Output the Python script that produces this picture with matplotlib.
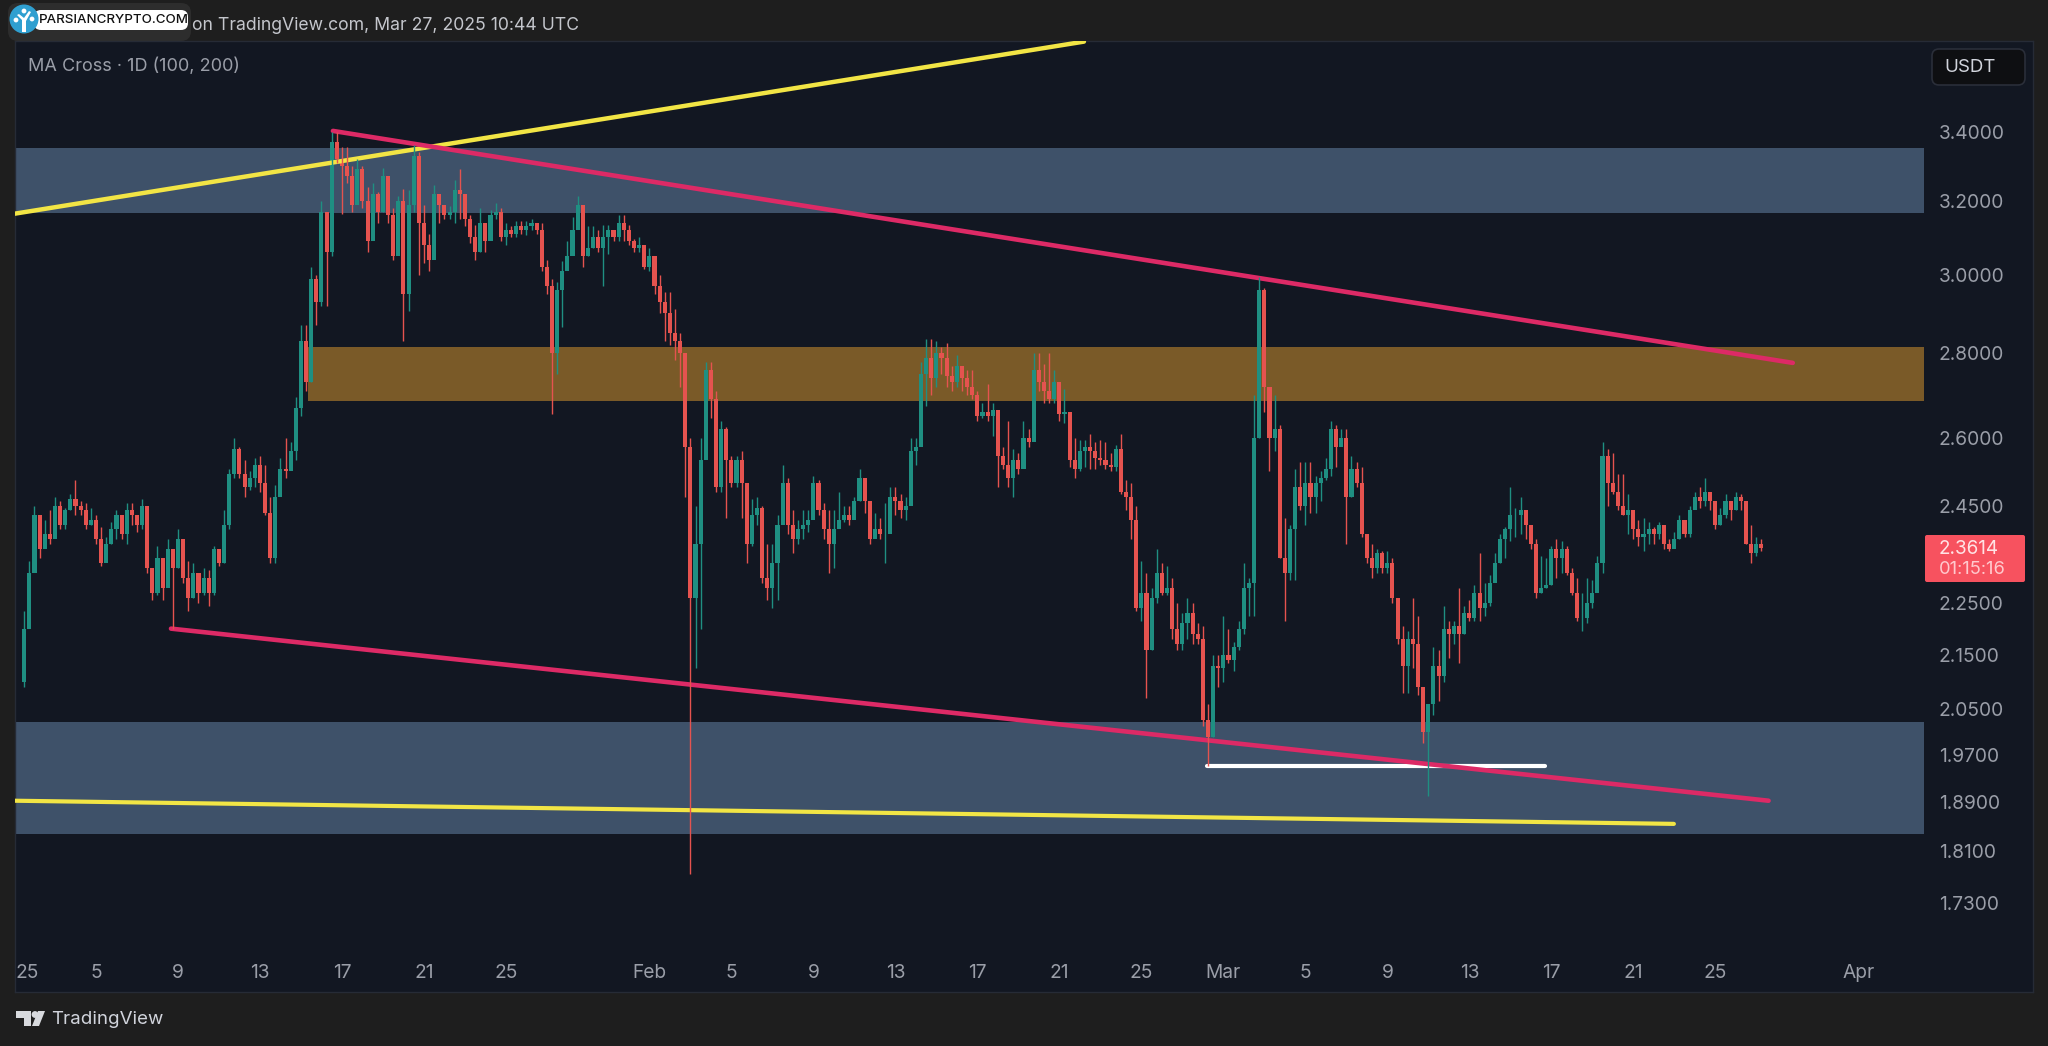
import matplotlib
matplotlib.use('Agg')
import matplotlib.pyplot as plt
import numpy as np
from matplotlib.patches import Circle, FancyBboxPatch, Polygon
from matplotlib.ticker import NullLocator

plt.rcParams['font.family'] = ['Inter', 'DejaVu Sans']

# candles, one every quarter of a day, from Jan 1 2025 (day numbers)
first_open = 2.10
first_day = 0.5
candle_step = 0.25
closes = [
    2.20, 2.31, 2.43, 2.36, 2.39, 2.38, 2.45, 2.41, 2.44, 2.465,
    2.45, 2.44, 2.41, 2.42, 2.38, 2.33, 2.37, 2.40, 2.43, 2.39,
    2.44, 2.43, 2.41, 2.45, 2.32, 2.27, 2.34, 2.28, 2.36, 2.32,
    2.38, 2.30, 2.26, 2.31, 2.27, 2.30, 2.27, 2.36, 2.33, 2.41,
    2.52, 2.575, 2.52, 2.49, 2.51, 2.54, 2.50, 2.435, 2.34, 2.47,
    2.53, 2.525, 2.57, 2.67, 2.83, 2.73, 2.99, 2.93, 3.17, 3.06,
    3.37, 3.32, 3.30, 3.27, 3.19, 3.29, 3.20, 3.09, 3.22, 3.17,
    3.27, 3.16, 3.05, 3.20, 2.95, 3.19, 3.33, 3.14, 3.08, 3.04,
    3.22, 3.19, 3.16, 3.17, 3.23, 3.22, 3.15, 3.10, 3.06, 3.14,
    3.09, 3.16, 3.17, 3.10, 3.12, 3.11, 3.13, 3.12, 3.13, 3.14,
    3.12, 3.02, 2.97, 2.80, 2.96, 3.01, 3.05, 3.12, 3.19, 3.05,
    3.07, 3.10, 3.07, 3.10, 3.12, 3.10, 3.14, 3.12, 3.09, 3.07,
    3.08, 3.02, 3.05, 2.97, 2.93, 2.90, 2.85, 2.83, 2.80, 2.58,
    2.26, 2.37, 2.55, 2.76, 2.69, 2.49, 2.62, 2.55, 2.50, 2.55,
    2.50, 2.37, 2.43, 2.445, 2.30, 2.28, 2.33, 2.41, 2.50, 2.41,
    2.38, 2.40, 2.41, 2.42, 2.50, 2.44, 2.40, 2.37, 2.40, 2.42,
    2.43, 2.42, 2.46, 2.51, 2.46, 2.38, 2.40, 2.39, 2.39, 2.47,
    2.46, 2.44, 2.45, 2.57, 2.58, 2.75, 2.79, 2.74, 2.80, 2.79,
    2.745, 2.73, 2.77, 2.74, 2.72, 2.70, 2.65, 2.66, 2.65, 2.665,
    2.56, 2.54, 2.51, 2.55, 2.53, 2.60, 2.59, 2.76, 2.73, 2.71,
    2.69, 2.73, 2.655, 2.66, 2.55, 2.53, 2.57, 2.58, 2.57, 2.555,
    2.55, 2.54, 2.535, 2.575, 2.48, 2.47, 2.42, 2.24, 2.27, 2.16,
    2.26, 2.31, 2.27, 2.28, 2.20, 2.17, 2.21, 2.23, 2.19, 2.18,
    2.03, 2.00, 2.13, 2.125, 2.15, 2.14, 2.165, 2.20, 2.28, 2.29,
    2.60, 2.96, 2.72, 2.60, 2.62, 2.34, 2.31, 2.40, 2.49, 2.45,
    2.50, 2.47, 2.50, 2.51, 2.53, 2.62, 2.58, 2.60, 2.47, 2.53,
    2.50, 2.39, 2.34, 2.32, 2.35, 2.32, 2.33, 2.26, 2.18, 2.13,
    2.18, 2.17, 2.09, 2.01, 2.06, 2.13, 2.11, 2.20, 2.19, 2.205,
    2.19, 2.23, 2.22, 2.27, 2.24, 2.25, 2.29, 2.33, 2.38, 2.40,
    2.43, 2.43, 2.44, 2.41, 2.37, 2.27, 2.28, 2.285, 2.36, 2.34,
    2.36, 2.31, 2.27, 2.22, 2.22, 2.25, 2.27, 2.33, 2.56, 2.50,
    2.48, 2.45, 2.43, 2.44, 2.40, 2.385, 2.39, 2.40, 2.39, 2.41,
    2.37, 2.36, 2.38, 2.42, 2.39, 2.44, 2.47, 2.46, 2.48, 2.46,
    2.41, 2.43, 2.46, 2.44, 2.47, 2.46, 2.37, 2.35, 2.37, 2.3614,
]
highs = [
    2.235, 2.335, 2.45, 2.43, 2.42, 2.44, 2.47, 2.46, 2.445, 2.475,
    2.505, 2.46, 2.455, 2.445, 2.43, 2.405, 2.385, 2.415, 2.44, 2.42,
    2.455, 2.455, 2.43, 2.465, 2.44, 2.32, 2.365, 2.335, 2.38, 2.36,
    2.40, 2.35, 2.335, 2.33, 2.30, 2.32, 2.315, 2.365, 2.35, 2.44,
    2.53, 2.60, 2.58, 2.55, 2.525, 2.555, 2.56, 2.54, 2.47, 2.495,
    2.555, 2.60, 2.59, 2.695, 2.87, 2.87, 3.02, 3.00, 3.20, 3.15,
    3.40, 3.40, 3.355, 3.355, 3.30, 3.32, 3.30, 3.24, 3.25, 3.225,
    3.295, 3.25, 3.18, 3.215, 3.235, 3.23, 3.36, 3.34, 3.19, 3.11,
    3.245, 3.20, 3.185, 3.185, 3.26, 3.29, 3.18, 3.16, 3.135, 3.18,
    3.13, 3.175, 3.195, 3.18, 3.14, 3.13, 3.145, 3.145, 3.145, 3.15,
    3.14, 3.14, 3.04, 2.99, 2.98, 3.035, 3.09, 3.155, 3.215, 3.19,
    3.13, 3.13, 3.12, 3.135, 3.135, 3.115, 3.16, 3.16, 3.135, 3.095,
    3.10, 3.07, 3.07, 3.04, 3.00, 2.955, 2.955, 2.91, 2.85, 2.76,
    2.60, 2.45, 2.60, 2.78, 2.78, 2.71, 2.64, 2.625, 2.56, 2.56,
    2.57, 2.465, 2.465, 2.47, 2.45, 2.37, 2.37, 2.43, 2.54, 2.51,
    2.44, 2.42, 2.44, 2.44, 2.515, 2.505, 2.455, 2.44, 2.44, 2.48,
    2.45, 2.45, 2.47, 2.53, 2.505, 2.44, 2.435, 2.425, 2.455, 2.49,
    2.49, 2.475, 2.47, 2.60, 2.60, 2.78, 2.835, 2.835, 2.83, 2.815,
    2.825, 2.77, 2.795, 2.765, 2.76, 2.76, 2.71, 2.68, 2.725, 2.68,
    2.63, 2.58, 2.64, 2.575, 2.565, 2.64, 2.62, 2.80, 2.80, 2.775,
    2.80, 2.76, 2.69, 2.715, 2.645, 2.60, 2.595, 2.595, 2.61, 2.59,
    2.595, 2.59, 2.565, 2.585, 2.61, 2.505, 2.50, 2.45, 2.335, 2.31,
    2.28, 2.36, 2.33, 2.325, 2.30, 2.25, 2.23, 2.26, 2.25, 2.21,
    2.205, 2.06, 2.15, 2.15, 2.225, 2.20, 2.175, 2.215, 2.33, 2.30,
    2.70, 2.995, 2.965, 2.70, 2.70, 2.63, 2.425, 2.41, 2.53, 2.545,
    2.545, 2.545, 2.515, 2.525, 2.555, 2.64, 2.63, 2.62, 2.62, 2.56,
    2.545, 2.535, 2.385, 2.37, 2.36, 2.355, 2.355, 2.34, 2.255, 2.205,
    2.195, 2.26, 2.225, 2.085, 2.06, 2.165, 2.16, 2.245, 2.215, 2.215,
    2.28, 2.245, 2.255, 2.285, 2.35, 2.29, 2.305, 2.35, 2.39, 2.405,
    2.49, 2.445, 2.47, 2.425, 2.40, 2.38, 2.345, 2.34, 2.365, 2.38,
    2.375, 2.365, 2.32, 2.30, 2.27, 2.30, 2.295, 2.345, 2.59, 2.575,
    2.565, 2.52, 2.52, 2.475, 2.44, 2.42, 2.425, 2.415, 2.405, 2.415,
    2.39, 2.38, 2.395, 2.43, 2.415, 2.45, 2.48, 2.49, 2.51, 2.48,
    2.46, 2.445, 2.475, 2.46, 2.48, 2.475, 2.46, 2.41, 2.385, 2.38,
]
lows = [
    2.09, 2.22, 2.335, 2.34, 2.365, 2.37, 2.40, 2.40, 2.40, 2.44,
    2.43, 2.43, 2.40, 2.41, 2.37, 2.325, 2.34, 2.37, 2.38, 2.38,
    2.37, 2.41, 2.395, 2.40, 2.31, 2.255, 2.265, 2.255, 2.29, 2.20,
    2.32, 2.29, 2.235, 2.26, 2.25, 2.265, 2.245, 2.265, 2.325, 2.33,
    2.40, 2.51, 2.51, 2.47, 2.485, 2.49, 2.48, 2.43, 2.33, 2.33,
    2.51, 2.51, 2.545, 2.55, 2.65, 2.71, 2.73, 2.87, 2.92, 2.92,
    3.05, 3.31, 3.165, 3.25, 3.17, 3.20, 3.18, 3.06, 3.15, 3.14,
    3.17, 3.14, 3.04, 3.06, 2.83, 2.905, 3.17, 3.00, 3.03, 3.01,
    3.13, 3.14, 3.15, 3.15, 3.14, 3.15, 3.13, 3.085, 3.04, 3.06,
    3.06, 3.12, 3.15, 3.09, 3.08, 3.10, 3.10, 3.11, 3.105, 3.12,
    3.11, 3.01, 2.95, 2.655, 2.75, 2.865, 3.015, 3.07, 3.125, 3.02,
    3.05, 3.07, 3.06, 2.97, 3.055, 3.09, 3.09, 3.09, 3.08, 3.06,
    3.06, 3.015, 3.01, 2.95, 2.90, 2.83, 2.82, 2.785, 2.72, 2.47,
    1.775, 2.125, 2.20, 2.645, 2.645, 2.48, 2.48, 2.425, 2.49, 2.49,
    2.425, 2.33, 2.365, 2.41, 2.29, 2.255, 2.24, 2.255, 2.43, 2.39,
    2.35, 2.37, 2.38, 2.395, 2.425, 2.43, 2.38, 2.31, 2.32, 2.41,
    2.415, 2.41, 2.425, 2.46, 2.435, 2.37, 2.385, 2.38, 2.33, 2.425,
    2.43, 2.425, 2.42, 2.46, 2.54, 2.59, 2.675, 2.70, 2.72, 2.75,
    2.72, 2.71, 2.72, 2.71, 2.70, 2.69, 2.64, 2.645, 2.64, 2.605,
    2.49, 2.53, 2.49, 2.47, 2.52, 2.535, 2.58, 2.635, 2.71, 2.68,
    2.68, 2.68, 2.64, 2.635, 2.535, 2.51, 2.525, 2.535, 2.53, 2.53,
    2.54, 2.53, 2.525, 2.525, 2.475, 2.44, 2.38, 2.235, 2.215, 2.07,
    2.16, 2.25, 2.265, 2.265, 2.18, 2.16, 2.16, 2.18, 2.17, 2.17,
    2.02, 1.95, 2.00, 2.09, 2.10, 2.135, 2.12, 2.16, 2.19, 2.225,
    2.225, 2.60, 2.66, 2.525, 2.57, 2.34, 2.215, 2.295, 2.295, 2.44,
    2.41, 2.435, 2.435, 2.46, 2.505, 2.515, 2.535, 2.585, 2.37, 2.47,
    2.49, 2.385, 2.33, 2.30, 2.31, 2.31, 2.31, 2.25, 2.17, 2.08,
    2.08, 2.125, 2.075, 1.99, 1.90, 2.04, 2.065, 2.10, 2.145, 2.17,
    2.135, 2.19, 2.215, 2.215, 2.215, 2.225, 2.245, 2.295, 2.33, 2.34,
    2.375, 2.385, 2.39, 2.38, 2.36, 2.26, 2.27, 2.28, 2.285, 2.30,
    2.31, 2.305, 2.265, 2.215, 2.195, 2.21, 2.24, 2.28, 2.31, 2.45,
    2.475, 2.44, 2.43, 2.39, 2.38, 2.365, 2.355, 2.37, 2.37, 2.38,
    2.36, 2.355, 2.365, 2.38, 2.385, 2.385, 2.45, 2.445, 2.45, 2.44,
    2.40, 2.41, 2.425, 2.42, 2.44, 2.44, 2.37, 2.33, 2.345, 2.355,
]

# zones and drawn lines, (day, price)
zone_right = 93.17
blue_top_zone = (0.0, 3.353, 3.167)
orange_zone = (14.34, 2.816, 2.686)
blue_low_zone = (0.0, 2.027, 1.837)
yellow_top_days = [0.05, 52.2]
yellow_top_prices = [3.165, 3.68]
yellow_low_days = [0.05, 80.98]
yellow_low_prices = [1.892, 1.854]
pink_top_days = [15.56, 86.78]
pink_top_prices = [3.403, 2.777]
pink_low_days = [7.66, 85.6]
pink_low_prices = [2.20, 1.892]
white_days = [58.2, 74.7]
white_prices = [1.95, 1.95]

price_ticks = [3.4, 3.2, 3.0, 2.8, 2.6, 2.45, 2.25, 2.15, 2.05, 1.97, 1.89, 1.81, 1.73]
price_labels = ['3.4000', '3.2000', '3.0000', '2.8000', '2.6000', '2.4500', '2.2500',
                '2.1500', '2.0500', '1.9700', '1.8900', '1.8100', '1.7300']
date_ticks = [0.65, 4, 8, 12, 16, 20, 24, 31, 35, 39, 43, 47, 51, 55, 59, 63, 67, 71, 75, 79, 83, 90]
date_labels = ['25', '5', '9', '13', '17', '21', '25', 'Feb', '5', '9', '13', '17', '21', '25',
               'Mar', '5', '9', '13', '17', '21', '25', 'Apr']

outer_color = '#1e1e1e'
panel_color = '#121722'
blue_color = '#3e5169'
orange_color = '#7a5a28'
up_color = '#1f8f82'
down_color = '#e5534f'
pink_color = '#dd2a66'
yellow_color = '#f2e545'
label_color = '#9a9ea8'
W, H = 2048, 1046

fig = plt.figure(figsize=(W / 100, H / 100), dpi=100, facecolor=outer_color)
ax = fig.add_axes([15 / W, (H - 992) / H, (2033 - 15) / W, (992 - 41) / H], facecolor=panel_color)
ax.set_yscale('log')
ax.set_xlim(0.05, 98.5)
ax.set_ylim(1.600, 3.682)

for zone, color in [(blue_top_zone, blue_color), (orange_zone, orange_color), (blue_low_zone, blue_color)]:
    ax.fill_between([zone[0], zone_right], zone[2], zone[1], color=color, lw=0, zorder=1)

closes_arr = np.array(closes)
opens_arr = np.concatenate([[first_open], closes_arr[:-1]])
days = first_day + candle_step * np.arange(len(closes))
colors = [up_color if c >= o else down_color for o, c in zip(opens_arr, closes_arr)]
bottoms = np.minimum(opens_arr, closes_arr)
ax.bar(days, np.abs(closes_arr - opens_arr), bottom=bottoms, width=0.2, color=colors, lw=0, zorder=2)

ax.plot(yellow_top_days, yellow_top_prices, color=yellow_color, lw=3.2, solid_capstyle='round', zorder=3)
ax.plot(yellow_low_days, yellow_low_prices, color=yellow_color, lw=3.0, solid_capstyle='round', zorder=3)
ax.plot(white_days, white_prices, color='white', lw=3.0, solid_capstyle='round', zorder=3)
ax.plot(pink_top_days, pink_top_prices, color=pink_color, lw=3.3, solid_capstyle='round', zorder=3)
ax.plot(pink_low_days, pink_low_prices, color=pink_color, lw=3.3, solid_capstyle='round', zorder=3)

ax.vlines(days, lows, highs, colors=colors, lw=1.0, zorder=4)

ax.yaxis.tick_right()
ax.set_yticks(price_ticks, labels=price_labels)
ax.yaxis.set_minor_locator(NullLocator())
ax.set_xticks(date_ticks, labels=date_labels)
ax.tick_params(axis='y', length=0, pad=-67.7, labelsize=13.8, labelcolor=label_color)
ax.tick_params(axis='x', length=0, pad=-20, labelsize=13.8, labelcolor=label_color)
for tick_label in ax.get_yticklabels() + ax.get_xticklabels():
    tick_label.set_zorder(6)
for spine in ax.spines.values():
    spine.set_color('#262b36')
    spine.set_linewidth(1)

# header, footer and badges sit in pixel coordinates on top
overlay = fig.add_axes([0, 0, 1, 1], facecolor='none')
overlay.set_xlim(0, W)
overlay.set_ylim(H, 0)
overlay.axis('off')

overlay.text(192, 25, 'on TradingView.com, Mar 27, 2025 10:44 UTC', color='#c4c6cc', fontsize=12.7, va='center', ha='left')
overlay.text(28, 66, 'MA Cross · 1D (100, 200)', color=label_color, fontsize=13, va='center', ha='left')

overlay.add_patch(FancyBboxPatch((1932, 49), 93, 36, boxstyle='round,pad=0,rounding_size=7',
                                 fc='#0e0f12', ec='#2a2e39', lw=1.2))
overlay.text(1944, 67, 'USDT', color='#d1d4dc', fontsize=13.5, va='center', ha='left')

overlay.add_patch(FancyBboxPatch((1925, 535), 100, 47, boxstyle='round,pad=0,rounding_size=2', fc='#f7525f', ec='none'))
overlay.text(1939, 549, '2.3614', color='#ffe3e5', fontsize=13.6, va='center', ha='left')
overlay.text(1939, 570, '01:15:16', color='#ffc9cd', fontsize=13.2, va='center', ha='left')

# TradingView mark and name
overlay.add_patch(Polygon([(16, 1011), (31, 1011), (31, 1026), (24, 1026), (24, 1018), (16, 1018)], fc='#d8dade', ec='none'))
overlay.add_patch(Circle((35, 1014.5), 3.4, fc='#d8dade', ec='none'))
overlay.add_patch(Polygon([(38, 1011), (45, 1011), (39, 1026), (32, 1026)], fc='#d8dade', ec='none'))
overlay.text(51, 1020, 'TradingView', color='#d1d4dc', fontsize=13.5, va='center', ha='left')

# site watermark over the header
overlay.add_patch(FancyBboxPatch((8, 3), 183, 38, boxstyle='round,pad=0,rounding_size=10', fc='#3a3a3a', ec='none', alpha=0.55))
overlay.add_patch(FancyBboxPatch((34, 10), 154, 20, boxstyle='round,pad=0,rounding_size=7', fc='white', ec='none'))
overlay.text(39, 20, 'PARSIANCRYPTO.COM', color='#111111', fontsize=9.6, fontweight='medium', va='center', ha='left')
overlay.add_patch(Circle((24, 19), 14.5, fc='#2f9fd0', ec='none'))
overlay.add_patch(Polygon([(22, 32), (22, 20), (17, 15), (19, 14), (24, 18), (29, 11), (31, 12), (26, 21), (26, 32)], fc='white', ec='none'))
overlay.add_patch(Circle((24, 11), 2.4, fc='white', ec='none'))
overlay.add_patch(Circle((16, 20), 2.4, fc='white', ec='none'))
overlay.add_patch(Circle((32, 19), 2.4, fc='white', ec='none'))

fig.savefig('out.png', dpi=100, facecolor=outer_color)
